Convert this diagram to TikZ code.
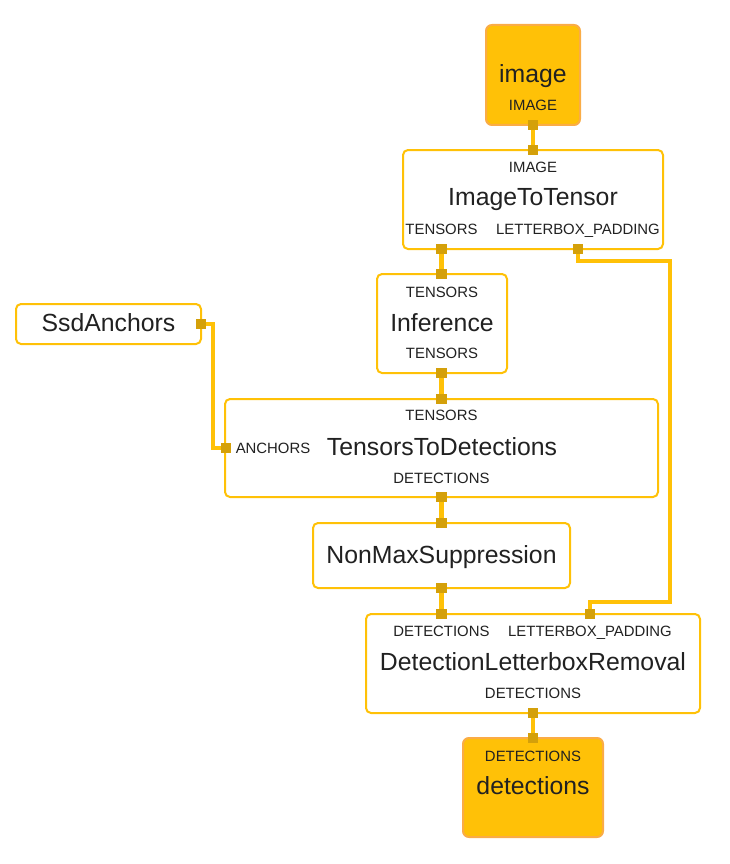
\documentclass[tikz,border=0pt]{standalone}
\usepackage{fontspec}
\setmainfont{Liberation Sans}
\usetikzlibrary{backgrounds}
\definecolor{amber}{RGB}{255,193,7}
\definecolor{portc}{RGB}{212,160,10}
\definecolor{ioborder}{RGB}{250,172,70}
\definecolor{txt}{RGB}{33,33,33}
\begin{document}
\begin{tikzpicture}[x=1pt,y=-1pt,
  box/.style={draw=amber, line width=2pt, rounded corners=5pt, fill=white, inner sep=0pt},
  iobox/.style={draw=ioborder, fill=amber, line width=2pt, rounded corners=6pt, inner sep=0pt},
  port/.style={fill=portc, minimum size=10.5pt, inner sep=0pt},
  edge/.style={draw=amber, line width=4.3pt},
  big/.style={font=\fontsize{24.8}{29}\selectfont, text=txt, inner sep=0pt, text height=17.8pt, text depth=0pt},
  small/.style={font=\fontsize{14.9}{17}\selectfont, text=txt, inner sep=0pt, text height=10.7pt, text depth=0pt}]
\useasboundingbox (0,0) rectangle (729,864);

% boxes
\node[iobox, minimum width=94pt, minimum height=100pt] (img) at (533,75) {};
\node[box, minimum width=260pt, minimum height=99pt] (itt) at (533,199.5) {};
\node[box, minimum width=130pt, minimum height=99pt] (inf) at (442,323.5) {};
\node[box, minimum width=185pt, minimum height=40pt] (ssd) at (108.5,324) {};
\node[box, minimum width=433pt, minimum height=98pt] (ttd) at (441.5,448) {};
\node[box, minimum width=257pt, minimum height=65pt] (nms) at (441.5,555.5) {};
\node[box, minimum width=334pt, minimum height=99pt] (dlr) at (533,663.5) {};
\node[iobox, minimum width=140pt, minimum height=99pt] (det) at (533,787.5) {};

% texts
\node[big] (t-img) at (533,73.5) {image};
\node[small] (t-img-o) at (533,105) {IMAGE};
\node[small] (t-itt-i) at (533,167) {IMAGE};
\node[big] (t-itt) at (533,197) {ImageToTensor};
\node[small] (t-itt-t) at (441.5,229.5) {TENSORS};
\node[small] (t-itt-l) at (578,229.5) {LETTERBOX\_PADDING};
\node[small] (t-inf-i) at (442,292) {TENSORS};
\node[big] (t-inf) at (442,322.5) {Inference};
\node[small] (t-inf-o) at (442,353.5) {TENSORS};
\node[big] (t-ssd) at (108.5,322.5) {SsdAnchors};
\node[small] (t-ttd-i) at (441.5,415.5) {TENSORS};
\node[small] (t-ttd-a) at (273,448) {ANCHORS};
\node[big] (t-ttd) at (442,447) {TensorsToDetections};
\node[small] (t-ttd-o) at (441.5,478.5) {DETECTIONS};
\node[big] (t-nms) at (441.5,554.5) {NonMaxSuppression};
\node[small] (t-dlr-d) at (441.5,631) {DETECTIONS};
\node[small] (t-dlr-l) at (590,631) {LETTERBOX\_PADDING};
\node[big] (t-dlr) at (533,662) {DetectionLetterboxRemoval};
\node[small] (t-dlr-o) at (533,693.5) {DETECTIONS};
\node[small] (t-det-i) at (533,756.5) {DETECTIONS};
\node[big] (t-det) at (533,786) {detections};

% ports
\node[port] (img-p) at (533,125) {};
\node[port] (itt-in) at (533,150) {};
\node[port] (itt-t) at (441.5,249) {};
\node[port] (itt-l) at (578,249) {};
\node[port] (inf-in) at (441.5,274) {};
\node[port] (inf-out) at (441.5,373) {};
\node[port] (ssd-p) at (201,324) {};
\node[port] (ttd-in) at (441.5,399) {};
\node[port] (ttd-a) at (226,448) {};
\node[port] (ttd-out) at (441.5,497) {};
\node[port] (nms-in) at (441.5,523) {};
\node[port] (nms-out) at (441.5,588) {};
\node[port] (dlr-d) at (441.5,614) {};
\node[port] (dlr-l) at (590,614) {};
\node[port] (dlr-out) at (533,713) {};
\node[port] (det-in) at (533,738) {};

\coordinate (sa) at (213,324);
\coordinate (lb1) at (670,261);
\coordinate (lb2) at (670,602);

\begin{scope}[on background layer]
\draw[edge] (img-p.center) -- (itt-in.center);
\draw[edge] (itt-t.center) -- (inf-in.center);
\draw[edge] (inf-out.center) -- (ttd-in.center);
\draw[edge] (ttd-out.center) -- (nms-in.center);
\draw[edge] (nms-out.center) -- (dlr-d.center);
\draw[edge] (dlr-out.center) -- (det-in.center);
\draw[edge] (ssd-p.center) -- (sa) |- (ttd-a.center);
\draw[edge] (itt-l.center) |- (lb1) -- (lb2) -| (dlr-l.center);
\end{scope}
\end{tikzpicture}
\end{document}
